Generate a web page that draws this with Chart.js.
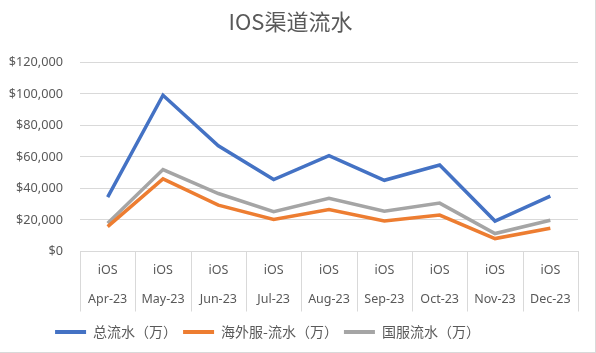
<!DOCTYPE html>
<html>
<head>
<meta charset="utf-8">
<script src="https://cdn.jsdelivr.net/npm/chart.js@4"></script>
<style>
  html, body { margin: 0; padding: 0; background: #fff; }
  #wrap { width: 595px; height: 352px; border-right: 1px solid #d9d9d9; border-bottom: 1px solid #d9d9d9; }
</style>
</head>
<body>
<div id="wrap"><canvas id="lineChart" width="595" height="352"></canvas></div>
<script>
// データ
const channels = ["iOS", "iOS", "iOS", "iOS", "iOS", "iOS", "iOS", "iOS", "iOS"];
const months = ["Apr-23", "May-23", "Jun-23", "Jul-23", "Aug-23", "Sep-23", "Oct-23", "Nov-23", "Dec-23"];
const totalRevenue = [34500, 99200, 67100, 45700, 60800, 45200, 54900, 19300, 35100];
const overseasRevenue = [15800, 46100, 29400, 20400, 26700, 19300, 23100, 8200, 14700];
const domesticRevenue = [17900, 52000, 36800, 25300, 33700, 25600, 30700, 11400, 19800];
const seriesNames = ["总流水（万）", "海外服-流水（万）", "国服流水（万）"];
const colors = ["#4472c4", "#ed7d31", "#a5a5a5"];

const fontFamily = "'Noto Sans CJK SC', 'Noto Sans', sans-serif";
const latinFont = "'Noto Sans', 'Open Sans', sans-serif";
const textColor = "#595959";
const gridColor = "#d9d9d9";

const labels = months.map((m, i) => [channels[i], m]);

// カテゴリ間の区切り線（軸の下）
const separatorPlugin = {
  id: "separators",
  afterLayout(chart) {
    // 凡例を少し左に寄せる
    chart.legend.left -= 23;
    chart.legend.right -= 23;
  },
  afterDraw(chart) {
    const x = chart.scales.x;
    const c = chart.ctx;
    const top = chart.chartArea.bottom;
    const n = chart.data.labels.length;
    c.save();
    c.strokeStyle = gridColor;
    c.lineWidth = 1;
    for (let i = 0; i <= n; i++) {
      const px = Math.round(x.left + ((x.right - x.left) * i) / n) + 0.5;
      c.beginPath();
      c.moveTo(px, top);
      c.lineTo(px, top + 60);
      c.stroke();
    }
    c.restore();
  },
};

const values = [totalRevenue, overseasRevenue, domesticRevenue];
const datas = {
  labels: labels,
  datasets: seriesNames.map((name, i) => ({
    label: name,
    data: values[i],
    borderColor: colors[i],
    backgroundColor: colors[i],
    borderWidth: 3.5,
    pointRadius: 0,
    tension: 0,
  })),
};

const ctx = document.getElementById("lineChart").getContext("2d");
new Chart(ctx, {
  type: "line",
  data: datas,
  plugins: [separatorPlugin],
  options: {
    responsive: false,
    animation: false,
    layout: { padding: { left: 3, right: 17, top: 0, bottom: 3 } },
    plugins: {
      title: {
        display: true,
        text: "IOS渠道流水",
        color: textColor,
        font: { family: fontFamily, size: 22, weight: "normal" },
        padding: { top: 8, bottom: 28 },
      },
      legend: {
        position: "bottom",
        labels: {
          color: textColor,
          font: { family: fontFamily, size: 14 },
          boxWidth: 31,
          boxHeight: 4,
          padding: 6,
          generateLabels: (chart) =>
            Chart.defaults.plugins.legend.labels
              .generateLabels(chart)
              .map((l) => ({ ...l, lineWidth: 0 })),
        },
      },
      tooltip: { enabled: false },
    },
    scales: {
      x: {
        offset: true,
        grid: { drawOnChartArea: false, drawTicks: false },
        border: { color: gridColor },
        ticks: {
          color: textColor,
          font: { family: latinFont, size: 12.5, lineHeight: 2.3 },
          padding: 5,
          maxRotation: 0,
          autoSkip: false,
        },
      },
      y: {
        min: 0,
        max: 120000,
        afterFit: (scale) => {
          scale.width = 77;
        },
        grid: { color: gridColor, drawTicks: false },
        border: { display: false },
        ticks: {
          stepSize: 20000,
          color: textColor,
          font: { family: latinFont, size: 12.7 },
          padding: 17,
          callback: (value) => "$" + value.toLocaleString("en-US"),
        },
      },
    },
  },
});
</script>
</body>
</html>
